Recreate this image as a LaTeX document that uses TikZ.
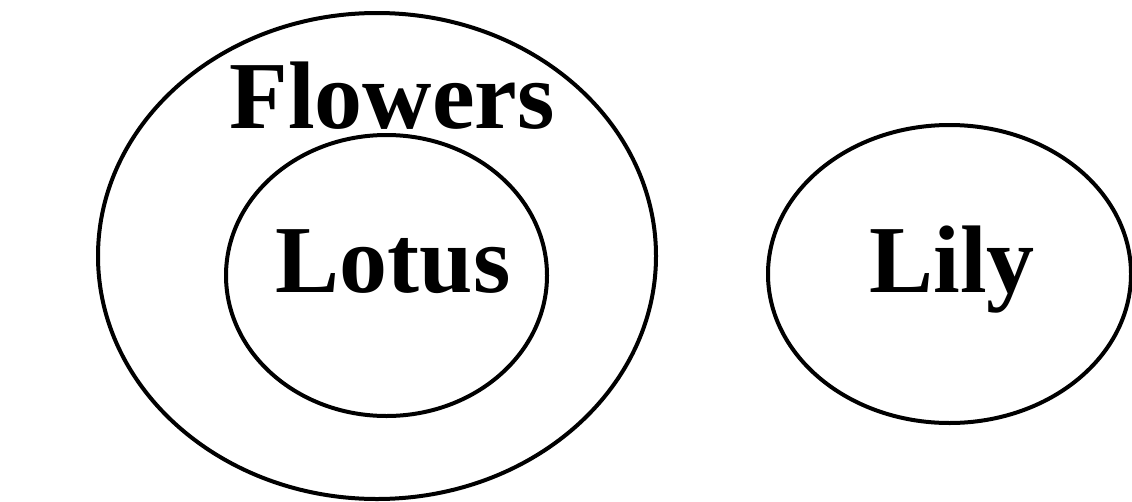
\documentclass[tikz,border=0pt]{standalone}
\usepackage{fontspec}
\setmainfont{Liberation Serif}
\usetikzlibrary{shapes.geometric,positioning}
\tikzset{
  set/.style={
    shape = ellipse,
    draw,
    line width = 4pt,
    inner sep = 0pt
  },
}
\tikzset{
  setname/.style={
    anchor = base,
    font = \fontsize{96}{100}\selectfont\bfseries,
    inner sep = 0pt
  },
}
\begin{document}
\begin{tikzpicture}[x=1pt,y=-1pt]

         \useasboundingbox (0,0) rectangle (1132,501);

         \node[set, minimum width=558pt, minimum height=486pt] (flowers) at (377,256) {};
         \node[set, minimum width=321pt, minimum height=281pt] (lotus) at (386.5,275.5) {};
         \node[set, minimum width=363pt, minimum height=298pt] (lily) at (949.5,274) {};

         \node[setname] (flowerstext) at (392,128) {Flowers};
         \node[setname] (lotustext) at (393,292) {Lotus};
         \node[setname] (lilytext) at (952,292) {Lily};

    \end{tikzpicture}
\end{document}
